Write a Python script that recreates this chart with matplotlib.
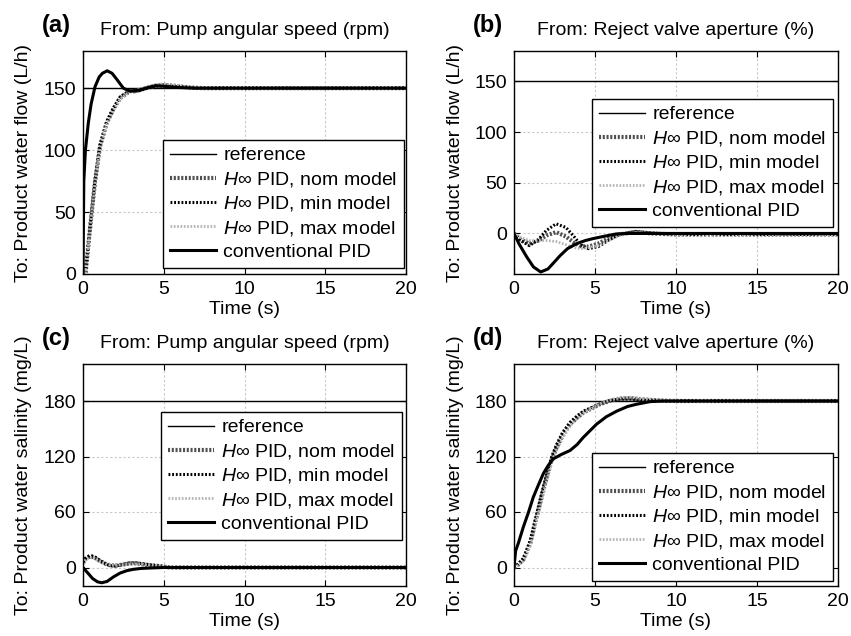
import matplotlib
matplotlib.use("Agg")
import matplotlib.pyplot as plt

plt.rcParams['font.family'] = ['Liberation Sans', 'DejaVu Sans']
plt.rcParams['mathtext.fontset'] = 'custom'
plt.rcParams['mathtext.it'] = 'Liberation Sans:italic'
plt.rcParams['mathtext.rm'] = 'Liberation Sans'

# ---- data ----
t_end = [0, 20]

# (a) pump speed -> product flow
ref_a = [150, 150]
t_a_conv = [0, 0.05, 0.15, 0.33, 0.5, 0.74, 1.0, 1.2, 1.5, 1.8, 2.1, 2.5, 2.9, 3.5, 4.0, 4.5, 5.0, 6.0, 7.0, 8.0, 20]
y_a_conv = [0, 75, 100, 122, 137, 151, 159, 162, 164, 162, 157, 150, 147.6, 148.5, 150.5, 152, 151.5, 150.5, 150, 150, 150]
t_a_hinf = [0, 0.15, 0.43, 0.74, 1.05, 1.47, 1.88, 2.3, 2.9, 3.2, 3.5, 4.0, 4.5, 5.0, 5.6, 6.6, 7.5, 8.5, 20]
y_a_nom = [0, 0, 36, 74, 103, 122, 133, 142, 147.6, 147.5, 148.5, 150.5, 152, 152.5, 152, 150.5, 150, 150, 150]
y_a_min = [0, 0, 37, 75, 104, 123, 134, 143, 148, 147.5, 148, 150, 151.5, 152, 151.5, 150.5, 150, 150, 150]
y_a_max = [0, 0, 35, 73, 102, 121, 132, 141, 147.5, 148, 149.5, 151.5, 153, 153.5, 152.5, 151, 150, 150, 150]

# (b) reject valve -> product flow
ref_b = [150, 150]
t_b_conv = [0, 0.3, 0.78, 1.2, 1.65, 2.1, 2.5, 2.84, 3.3, 3.87, 4.4, 4.9, 5.5, 6.3, 7, 8, 20]
y_b_conv = [0, -10, -23, -33, -38, -35, -28, -22, -15, -10, -7, -5, -3, -0.5, 0, 0, 0]
t_b_hinf = [0, 0.4, 0.95, 1.5, 2.0, 2.6, 3.2, 3.7, 4.1, 4.6, 5.2, 5.8, 6.5, 7.5, 8.5, 10, 20]
y_b_nom = [0, -6, -10, -7, -2, 1.3, -3, -9, -12.5, -13, -10, -5, -1, 1.5, 0, -1, -1]
y_b_min = [0, -7, -12, -6, 3, 9.5, 6, -3, -11, -15, -13, -7, -1, 2, 0.5, -1, -1]
y_b_max = [0, -4, -7, -7, -7, -8, -11, -14, -15, -14, -12, -7, -2, 1, 0, -1, -1]

# (c) pump speed -> product salinity
ref_c = [180, 180]
t_c_conv = [0, 0.3, 0.6, 0.9, 1.16, 1.5, 1.9, 2.3, 2.7, 3.1, 3.6, 4.2, 5, 6, 20]
y_c_conv = [0, -6, -12, -15.5, -16.5, -15, -10, -6, -3.5, -2, -1, -0.5, 0, 0, 0]
t_c_hinf = [0, 0.2, 0.43, 0.7, 1.05, 1.4, 1.67, 2.0, 2.4, 2.9, 3.3, 3.7, 4.1, 4.5, 5.0, 5.4, 6, 20]
y_c_nom = [5, 10, 12, 11, 7, 4, 2.5, 2, 3, 4.5, 4.5, 3.5, 2.5, 2, 1, 0, 0, 0]
y_c_min = [6, 11, 13, 12, 7.5, 4, 2, 1.5, 3, 5, 5, 4, 3, 2, 1, 0, 0, 0]
y_c_max = [4, 9, 11, 10, 6.5, 4, 3, 2.5, 3, 4, 4, 3.5, 2.5, 2, 1, 0.5, 0, 0]

# (d) reject valve -> product salinity
ref_d = [180, 180]
t_d_conv = [0, 0.1, 0.27, 0.58, 0.9, 1.19, 1.5, 1.81, 2.1, 2.43, 2.9, 3.46, 3.9, 4.28, 4.7, 5.1, 5.7, 6.34, 7, 7.57, 8.4, 9.2, 20]
y_d_conv = [0, 18, 26.4, 44, 60, 76, 89, 101.5, 110, 117.5, 122, 126.5, 133, 140.7, 148, 155, 163, 169, 174, 176.5, 179.3, 180, 180]
t_d_hinf = [0, 0.16, 0.58, 1.0, 1.4, 1.7, 2.02, 2.33, 2.63, 3.0, 3.46, 3.9, 4.28, 4.8, 5.3, 5.9, 6.5, 7.2, 7.9, 9, 10, 20]
y_d_nom = [0, 1.4, 8.6, 26, 55, 76, 98, 117, 130, 143, 155, 162, 167.5, 172, 176.5, 180, 182.5, 183, 181.8, 180.5, 180, 180]
y_d_min = [0, 2, 10, 29, 58, 80, 101, 120, 133, 146, 157, 164, 169, 173, 177, 180.5, 182, 182, 181, 180.3, 180, 180]
y_d_max = [0, 1, 7, 23, 51, 72, 94, 113, 127, 140, 153, 161, 167, 172, 177, 181, 183.5, 184, 182.5, 181, 180, 180]

labels = ['reference', r'$H\infty$ PID, nom model', r'$H\infty$ PID, min model',
          r'$H\infty$ PID, max model', 'conventional PID']

panels = [
    dict(tag='(a)', title='From: Pump angular speed (rpm)', ylabel='To: Product water flow (L/h)',
         ref=ref_a, th=t_a_hinf, nom=y_a_nom, mn=y_a_min, mx=y_a_max, tc=t_a_conv, conv=y_a_conv,
         ylim=(0, 180), yticks=[0, 50, 100, 150], rect=(83, 51, 406, 274), leg=(163, 140)),
    dict(tag='(b)', title='From: Reject valve aperture (%)', ylabel='To: Product water flow (L/h)',
         ref=ref_b, th=t_b_hinf, nom=y_b_nom, mn=y_b_min, mx=y_b_max, tc=t_b_conv, conv=y_b_conv,
         ylim=(-40, 180), yticks=[0, 50, 100, 150], rect=(514, 51, 838, 274), leg=(592, 99)),
    dict(tag='(c)', title='From: Pump angular speed (rpm)', ylabel='To: Product water salinity (mg/L)',
         ref=ref_c, th=t_c_hinf, nom=y_c_nom, mn=y_c_min, mx=y_c_max, tc=t_c_conv, conv=y_c_conv,
         ylim=(-20, 220), yticks=[0, 60, 120, 180], rect=(83, 364, 406, 586), leg=(161, 412)),
    dict(tag='(d)', title='From: Reject valve aperture (%)', ylabel='To: Product water salinity (mg/L)',
         ref=ref_d, th=t_d_hinf, nom=y_d_nom, mn=y_d_min, mx=y_d_max, tc=t_d_conv, conv=y_d_conv,
         ylim=(-20, 220), yticks=[0, 60, 120, 180], rect=(514, 364, 838, 586), leg=(592, 453)),
]

W, H = 851, 636
fig = plt.figure(figsize=(W / 100, H / 100), dpi=100)
fs = 14

for p in panels:
    x0, y0, x1, y1 = p['rect']
    ax = fig.add_axes([x0 / W, 1 - y1 / H, (x1 - x0) / W, (y1 - y0) / H])
    ax.plot(t_end, p['ref'], color='black', lw=1.0, label=labels[0])
    ax.plot(p['th'], p['nom'], color='#505050', lw=3.0, ls=(0, (0.5, 0.4)), label=labels[1])
    ax.plot(p['th'], p['mn'], color='black', lw=2.2, ls=(0, (0.6, 0.6)), label=labels[2])
    ax.plot(p['th'], p['mx'], color='#b4b4b4', lw=2.0, ls=(0, (0.6, 0.6)), label=labels[3])
    ax.plot(p['tc'], p['conv'], color='black', lw=2.2, label=labels[4])

    ax.set_xlim(0, 20)
    ax.set_ylim(*p['ylim'])
    ax.set_xticks([0, 5, 10, 15, 20])
    ax.set_yticks(p['yticks'])
    ax.grid(True, color='#c8c8c8', lw=0.8, ls=(0, (2, 2)))
    ax.tick_params(direction='in', length=4, width=0.8, top=True, right=True,
                   labelsize=fs, pad=5)
    for s in ax.spines.values():
        s.set_linewidth(1.0)
    ax.set_xlabel('Time (s)', fontsize=fs, labelpad=2)

    # y label, title and panel letter placed in figure pixels
    fig.text((x0 - 59) / W, 1 - (y0 + y1) / 2 / H, p['ylabel'], rotation=90,
             ha='center', va='center', fontsize=fs)
    fig.text((x0 + x1) / 2 / W, 1 - (y0 - 16) / H, p['title'], ha='center',
             va='baseline', fontsize=fs)
    fig.text((x0 - 41) / W, 1 - (y0 - 19) / H, p['tag'], ha='left',
             va='baseline', fontsize=17, fontweight='bold')

    lx, ly = p['leg']
    leg = ax.legend(loc='upper left', bbox_to_anchor=(lx / W, 1 - ly / H),
                    bbox_transform=fig.transFigure, borderaxespad=0,
                    fontsize=fs, frameon=True, fancybox=False, framealpha=1,
                    handlelength=2.4, handletextpad=0.35, labelspacing=0.28,
                    borderpad=0.35)
    leg.get_frame().set_edgecolor('black')
    leg.get_frame().set_linewidth(1.0)

fig.savefig('out.png', dpi=100)
